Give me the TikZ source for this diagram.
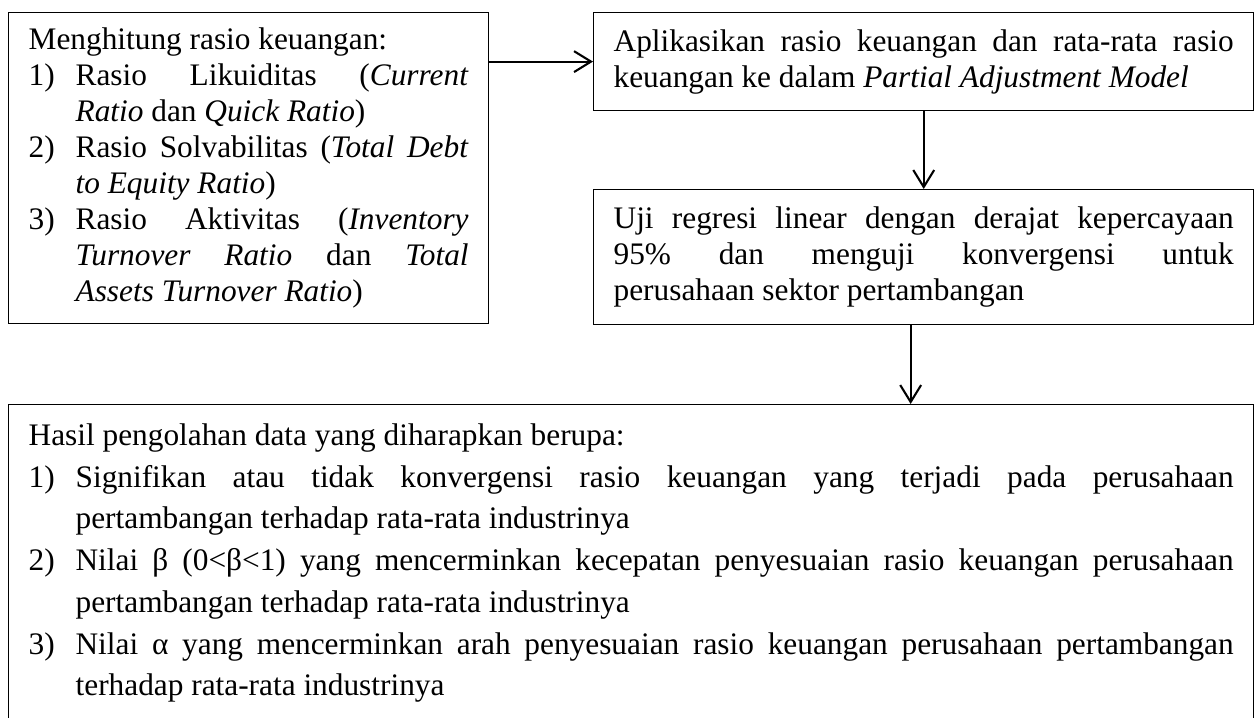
\documentclass[tikz,border=0pt]{standalone}
\usepackage{fontspec}
\setmainfont{Liberation Serif}
\usepackage{tikz}
\usetikzlibrary{arrows.meta,positioning,calc}
\setlength{\parindent}{0pt}
\hyphenpenalty=10000
\exhyphenpenalty=10000
\tolerance=9999
\hbadness=10000
\tikzset{%
	box/.style   = {draw, rectangle, line width=0.5pt, align=justify, inner xsep=7.66pt, inner ysep=0pt, font=\fontsize{12}{13.8}\selectfont},
	result/.style= {box, font=\fontsize{12}{16}\selectfont},
	arrow/.style = {line width=0.8pt,-{Straight Barb[length=6.5pt,width=8pt]}},
}
\newcommand{\itm}[2]{\par\hangindent=18pt\hangafter=1\makebox[18pt][l]{#1}#2\par}

\begin{document}
\begin{tikzpicture}[x=0.383pt,y=-0.383pt]
	\useasboundingbox (0,0) rectangle (1255,718);
	
	\node[box, anchor=north west, text width=168.5pt, minimum height=119.1pt] (hitung) at (8,12) {Menghitung rasio keuangan:
		\itm{1)}{Rasio Likuiditas (\textit{Current}\linebreak \textit{Ratio} dan \textit{Quick Ratio})}
		\itm{2)}{Rasio Solvabilitas (\textit{Total Debt}\linebreak \textit{to Equity Ratio})}
		\itm{3)}{Rasio Aktivitas (\textit{Inventory}\linebreak \textit{Turnover Ratio} dan \textit{Total}\linebreak \textit{Assets Turnover Ratio})}};
	
	\node[box, anchor=north west, text width=237.5pt, minimum height=37.5pt] (model) at (593,12) {Aplikasikan rasio keuangan dan rata-rata rasio\linebreak keuangan ke dalam \textit{Partial Adjustment Model}};
	
	\node[box, anchor=north west, text width=237.5pt, minimum height=51.7pt] (regresi) at (593,189) {Uji regresi linear dengan derajat kepercayaan\linebreak 95\% dan menguji konvergensi untuk\linebreak perusahaan sektor pertambangan};
	
	\node[result, anchor=north west, text width=461.5pt, minimum height=121.4pt] (hasil) at (8,404) {Hasil pengolahan data yang diharapkan berupa:
		\itm{1)}{Signifikan atau tidak konvergensi rasio keuangan yang terjadi pada perusahaan\linebreak pertambangan terhadap rata-rata industrinya}
		\itm{2)}{Nilai β (0<β<1) yang mencerminkan kecepatan penyesuaian rasio keuangan perusahaan\linebreak pertambangan terhadap rata-rata industrinya}
		\itm{3)}{Nilai α yang mencerminkan arah penyesuaian rasio keuangan perusahaan pertambangan\linebreak terhadap rata-rata industrinya}};
	
	\draw[arrow] (model.west -| hitung.east) -- (model.west);
	\draw[arrow] (model.south) -- (regresi.north);
	\draw[arrow] ([xshift=-5]regresi.south) -- ([xshift=-5]regresi.south |- hasil.north);
\end{tikzpicture}
\end{document}
